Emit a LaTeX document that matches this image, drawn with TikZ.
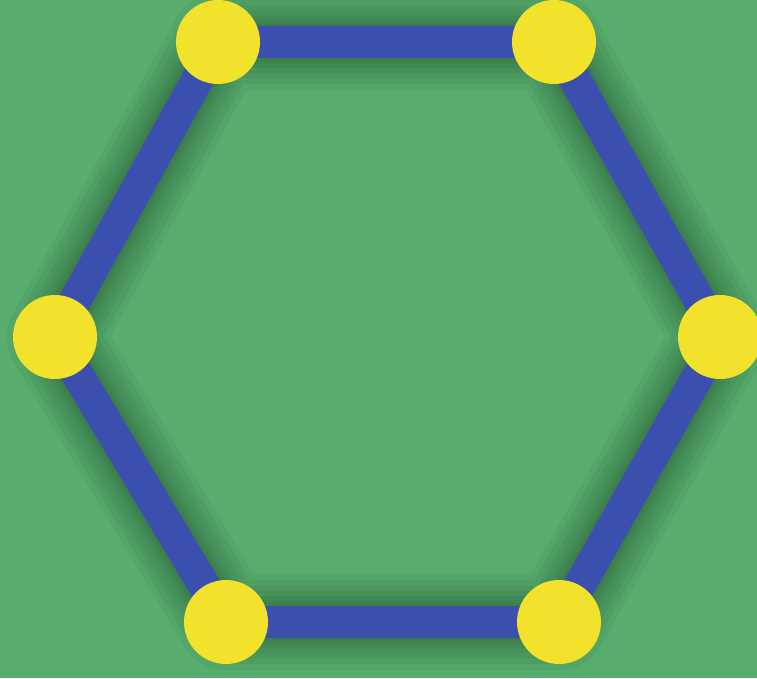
\documentclass[tikz,border=0pt]{standalone}
\begin{document}
\begin{tikzpicture}[x=1pt,y=1pt,
  vert/.style={circle,fill=yellowc,minimum size=84pt,inner sep=0pt},
  edgeline/.style={draw=bluec,line width=32pt}]
\definecolor{greenbg}{HTML}{58AD6E}
\definecolor{bluec}{HTML}{3A4FAE}
\definecolor{yellowc}{HTML}{F3E22B}
\definecolor{shadowc}{HTML}{1E4A2A}
\useasboundingbox (0,0) rectangle (757,678);
\fill[greenbg] (0,0) rectangle (757,678);
\clip (0,0) rectangle (757,678);
\coordinate (a) at (218,636);
\coordinate (b) at (554,636);
\coordinate (c) at (720,341);
\coordinate (d) at (559,56);
\coordinate (e) at (226,56);
\coordinate (f) at (55,341);
% soft shadow
\foreach \w in {96,84,72,62,52,44,38}{
  \draw[shadowc,opacity=0.08,line width=\w pt,line join=round,shift={(18,-18)}]
    (a) -- (b) -- (c) -- (d) -- (e) -- (f) -- cycle;
}
\draw[edgeline] (a) -- (b) -- (c) -- (d) -- (e) -- (f) -- cycle;
\node[vert] (A) at (a) {};
\node[vert] (B) at (b) {};
\node[vert] (C) at (c) {};
\node[vert] (D) at (d) {};
\node[vert] (E) at (e) {};
\node[vert] (F) at (f) {};
\end{tikzpicture}
\end{document}
